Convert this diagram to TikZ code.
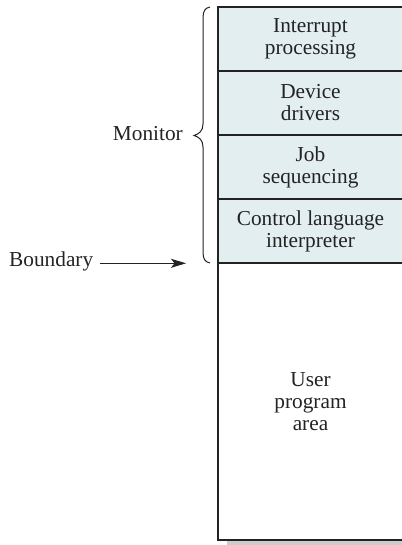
\documentclass[tikz,border=0pt]{standalone}
\usepackage{fontspec}
\setmainfont{Liberation Serif}
\usetikzlibrary{arrows.meta}
\definecolor{cellfill}{RGB}{226,238,240}
\definecolor{edgecol}{RGB}{35,35,35}
\begin{document}
\begin{tikzpicture}[x=1pt,y=-1pt,
  cell/.style={draw=edgecol, line width=1.2pt, fill=cellfill},
  userbox/.style={draw=edgecol, line width=1.2pt, fill=white},
  celltext/.style={font=\fontsize{21.3}{22}\selectfont, align=center, inner sep=0pt, text=edgecol},
  lbl/.style={font=\fontsize{21.3}{22}\selectfont, inner sep=0pt, text=edgecol},
  conn/.style={draw=edgecol, line width=1.1pt, -{Stealth[length=15pt,width=9pt,inset=3.5pt]}},
  bracestyle/.style={draw=edgecol, line width=1pt},
]
\useasboundingbox (0,0) rectangle (401,545);
\fill[gray!40] (227,540) rectangle (410,545);
\draw[cell] (218,7) rectangle (408,71);
\draw[cell] (218,71) rectangle (408,135);
\draw[cell] (218,135) rectangle (408,199);
\draw[cell] (218,199) rectangle (408,263);
\draw[userbox] (218,263) rectangle (408,540);
\node[celltext] (t1) at (310.5,39) {Interrupt\\processing};
\node[celltext] (t2) at (310.5,103) {Device\\drivers};
\node[celltext] (t3) at (310.5,167) {Job\\sequencing};
\node[celltext] (t4) at (310.5,231) {Control language\\interpreter};
\node[celltext] (t5) at (310.5,401.5) {User\\program\\area};
\node[lbl, anchor=base east] (mon) at (183,141) {Monitor};
\node[lbl, anchor=base west] (bnd) at (9,266.5) {Boundary};
\coordinate (astart) at (100,263.3);
\coordinate (aend) at (186,263.3);
\draw[conn] (astart) -- (aend);
\draw[bracestyle] (210,7) .. controls (205,8) and (203,11) .. (203,18) -- (203,124)
  .. controls (203,131) and (199,134) .. (194,135.5)
  .. controls (199,137) and (203,140) .. (203,147) -- (203,252)
  .. controls (203,259) and (205,262) .. (210,263);
\end{tikzpicture}
\end{document}
